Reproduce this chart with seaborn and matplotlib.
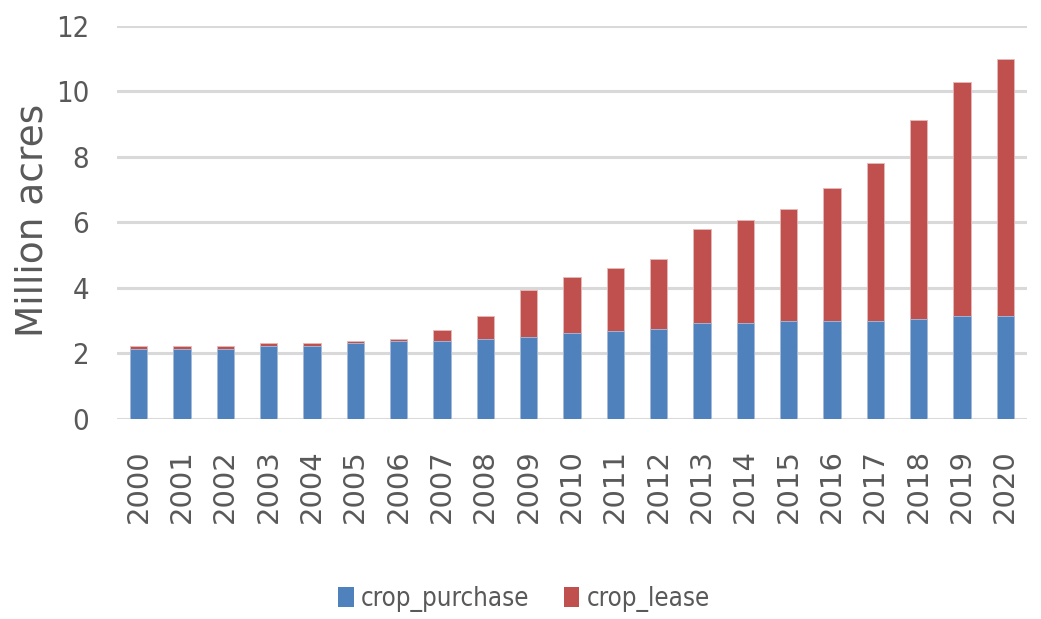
import matplotlib
matplotlib.use("Agg")
import matplotlib.pyplot as plt
from matplotlib import font_manager
import seaborn as sns
import pandas as pd
from matplotlib.patches import Patch

# Cropland under conservation contracts, million acres
years = [str(y) for y in range(2000, 2021)]
crop_purchase = [2.13, 2.13, 2.13, 2.22, 2.22, 2.30, 2.36, 2.36, 2.42, 2.50, 2.60,
                 2.66, 2.73, 2.93, 2.93, 2.99, 2.99, 2.99, 3.05, 3.12, 3.12]
crop_lease = [0.09, 0.09, 0.09, 0.08, 0.08, 0.07, 0.07, 0.35, 0.71, 1.42, 1.73,
              1.95, 2.15, 2.86, 3.14, 3.41, 4.04, 4.80, 6.07, 7.16, 7.86]
series_names = ["crop_purchase", "crop_lease"]
y_ticks = [0, 2, 4, 6, 8, 10, 12]

BLUE = "#4F81BD"
RED = "#C0504D"
TEXT = "#595959"
GRID = "#D9D9D9"

df = pd.DataFrame({"year": years, "crop_purchase": crop_purchase, "crop_lease": crop_lease})
df["total"] = df["crop_purchase"] + df["crop_lease"]

sns.set_theme(style="white")
plt.rcParams["font.family"] = ["DejaVu Sans"]

# narrow face for tick numbers and legend
installed = {f.name for f in font_manager.fontManager.ttflist}
if "Liberation Sans Narrow" in installed:
    NARROW = dict(family="Liberation Sans Narrow")
elif "DejaVu Sans Condensed" in installed:
    NARROW = dict(family="DejaVu Sans Condensed")
else:
    NARROW = dict(family="DejaVu Sans", stretch="condensed")

fig = plt.figure(figsize=(10.41, 6.19), dpi=100)
ax = fig.add_axes([0.1124, 0.3239, 0.874, 0.6349])

# stacked bars: total (lease on top) drawn first, purchase drawn over it
sns.barplot(data=df, x="year", y="total", color=RED, width=0.4, saturation=1,
            edgecolor="#E6B9B8", linewidth=0.6, ax=ax, zorder=3)
sns.barplot(data=df, x="year", y="crop_purchase", color=BLUE, width=0.4, saturation=1,
            edgecolor="#A7C0DE", linewidth=0.6, ax=ax, zorder=4)

ax.set_xlim(-0.5, len(years) - 0.5)
ax.set_ylim(0, 12)
ax.set_yticks(y_ticks)
ax.yaxis.grid(True, color=GRID, linewidth=2.2, zorder=0)
ax.xaxis.grid(False)
ax.set_axisbelow(True)
for s in ax.spines.values():
    s.set_visible(False)

ax.tick_params(axis="y", length=0, pad=20, labelcolor=TEXT)
ax.tick_params(axis="x", length=0, pad=22, labelcolor=TEXT)
for lab in ax.get_yticklabels():
    lab.set_fontproperties(font_manager.FontProperties(size=21, **NARROW))
for lab in ax.get_xticklabels():
    lab.set_rotation(90)
    lab.set_fontsize(21)
    lab.set_fontfamily("DejaVu Sans")

ax.set_xlabel("")
ax.set_ylabel("Million acres", fontsize=27, color=TEXT, family="DejaVu Sans")
ax.yaxis.label.set_verticalalignment("center")
ax.yaxis.label.set_rotation_mode("default")
ax.yaxis.set_label_coords(-0.093, 0.505)

handles = [Patch(facecolor=BLUE, edgecolor="none"), Patch(facecolor=RED, edgecolor="none")]
leg = fig.legend(handles, series_names, loc="center", bbox_to_anchor=(524 / 1041, 1 - 599 / 619),
                 ncol=2, frameon=False, handlelength=0.6, handleheight=0.85,
                 handletextpad=0.27, columnspacing=1.35,
                 prop=font_manager.FontProperties(size=18.5, **NARROW))
for t in leg.get_texts():
    t.set_color(TEXT)

fig.savefig("out.png", dpi=100, facecolor="white")
